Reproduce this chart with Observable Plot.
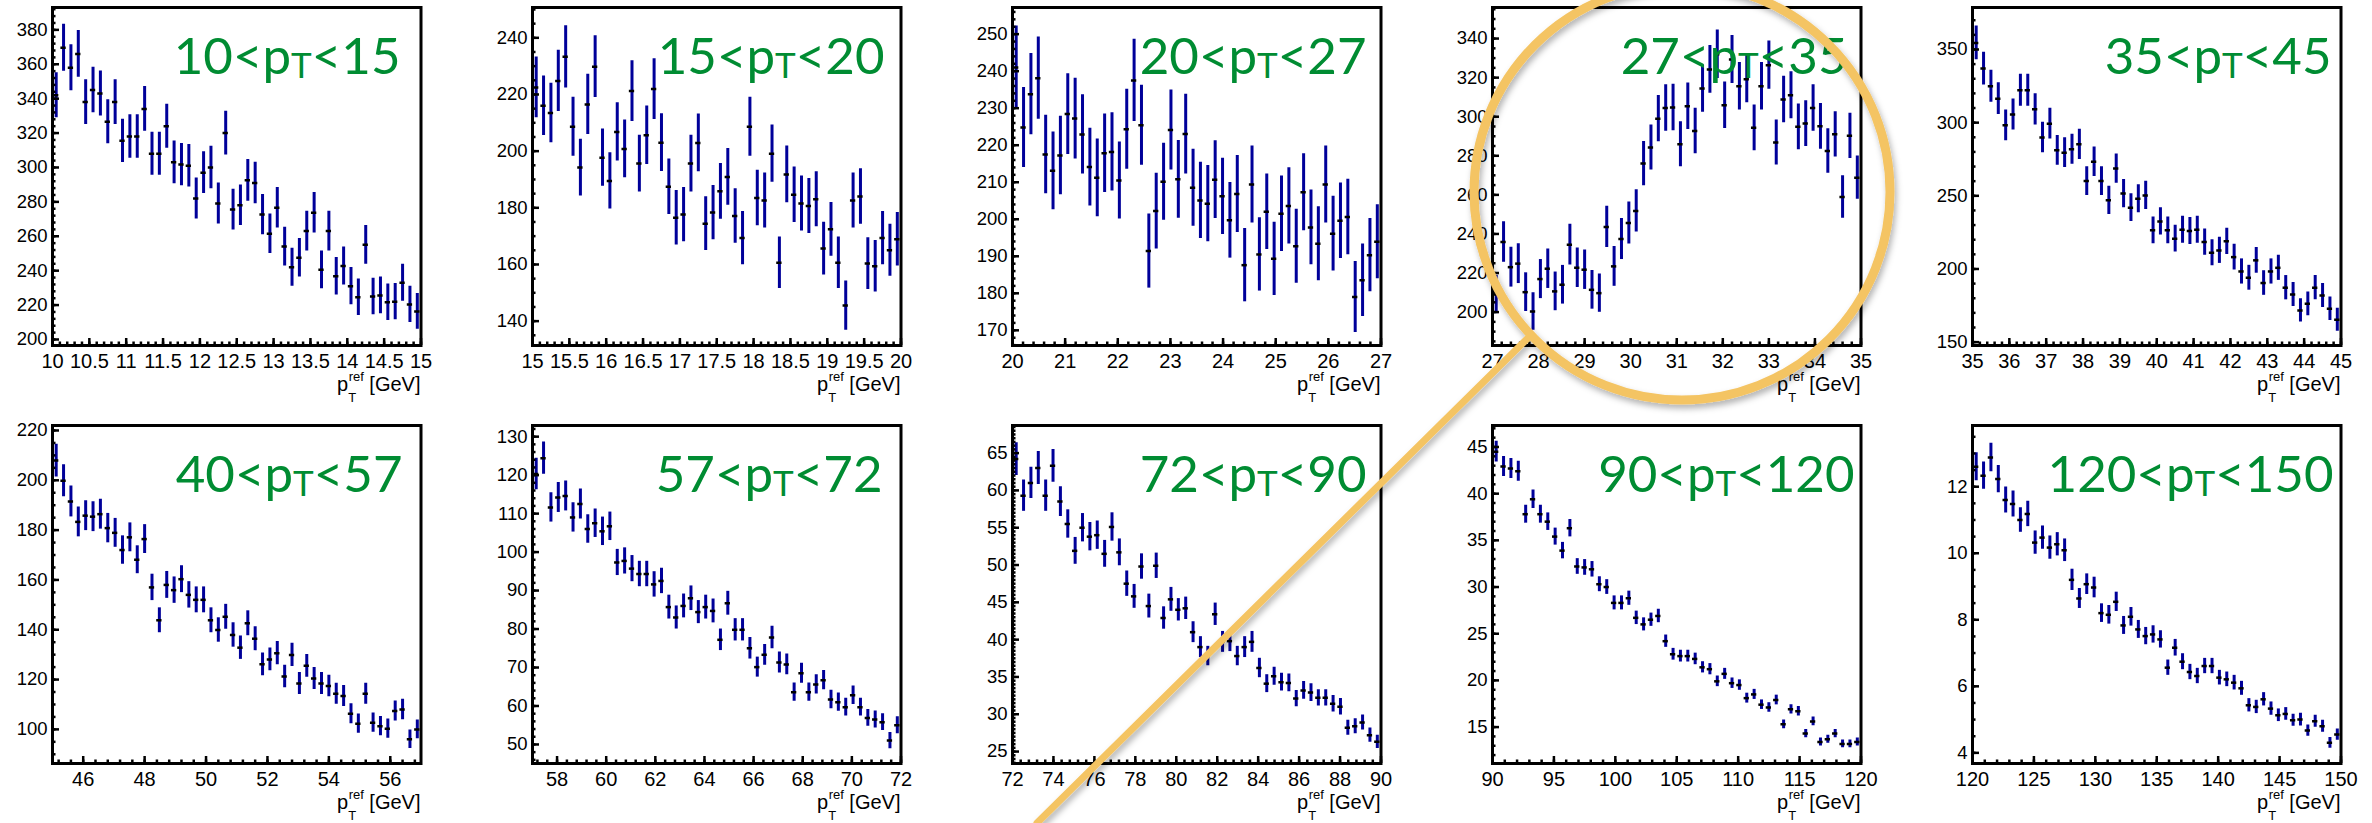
<!DOCTYPE html>
<html>
<head>
<meta charset="utf-8">
<script src="https://cdn.jsdelivr.net/npm/d3@7"></script>
<script src="https://cdn.jsdelivr.net/npm/@observablehq/plot@0.6"></script>
<style>
  html, body { margin: 0; padding: 0; background: #fff; }
  #root { position: relative; width: 2372px; height: 823px; overflow: hidden; background: #fff; }
  .panel { position: absolute; }
</style>
</head>
<body>
<div id="root"></div>
<script>
// ---------- DATA ----------
// pT bin labels (green titles)
const binLo = [10, 15, 20, 27, 35, 40, 57, 72, 90, 120];
const binHi = [15, 20, 27, 35, 45, 57, 72, 90, 120, 150];
// x-axis ranges of each histogram (p_T^ref)
const xLo = [10, 15, 20, 27, 35, 45, 57, 72, 90, 120];
const xHi = [15, 20, 27, 35, 45, 57, 72, 90, 120, 150];
// y-axis ranges
const yLo = [196.5, 131.4, 165.9, 182.9, 147.7, 86.3, 45.05, 23.4, 11.1, 3.68];
const yHi = [393, 250.7, 257.2, 355.9, 378.7, 222, 132.9, 68.7, 47.3, 13.84];
// tick labels
const xTicks = [
  [10, 10.5, 11, 11.5, 12, 12.5, 13, 13.5, 14, 14.5, 15],
  [15, 15.5, 16, 16.5, 17, 17.5, 18, 18.5, 19, 19.5, 20],
  [20, 21, 22, 23, 24, 25, 26, 27],
  [27, 28, 29, 30, 31, 32, 33, 34, 35],
  [35, 36, 37, 38, 39, 40, 41, 42, 43, 44, 45],
  [46, 48, 50, 52, 54, 56],
  [58, 60, 62, 64, 66, 68, 70, 72],
  [72, 74, 76, 78, 80, 82, 84, 86, 88, 90],
  [90, 95, 100, 105, 110, 115, 120],
  [120, 125, 130, 135, 140, 145, 150]
];
const xMinor = [0.1, 0.1, 0.2, 0.2, 0.2, 0.4, 0.4, 0.4, 1, 1];
const yTicks = [
  [200, 220, 240, 260, 280, 300, 320, 340, 360, 380],
  [140, 160, 180, 200, 220, 240],
  [170, 180, 190, 200, 210, 220, 230, 240, 250],
  [200, 220, 240, 260, 280, 300, 320, 340],
  [150, 200, 250, 300, 350],
  [100, 120, 140, 160, 180, 200, 220],
  [50, 60, 70, 80, 90, 100, 110, 120, 130],
  [25, 30, 35, 40, 45, 50, 55, 60, 65],
  [15, 20, 25, 30, 35, 40, 45],
  [4, 6, 8, 10, 12]
];
const yMinor = [4, 5, 2, 5, 10, 5, 2, 0.5, 1, 0.5];

// bin contents (50 bins per histogram) and their errors
const y1 = [342,369.6,358,366,338,345,343,326.6,338,315.5, 318,318,334,308,308,324,303,301.7,301,282, 297,300,279,320,275.5,278,292.5,291,272.6,261.5, 276.6,254,242,247.5,263,273.7,240.5,263,236.7,242.7, 231,224.6,255,225,225.6,221.7,222,233,220.4,216.3];
const e1 = [13.1,13.7,13.4,13.6,13.0,13.2,13.1,12.8,13.0,12.6, 12.7,12.7,13.0,12.5,12.5,12.8,12.4,12.3,12.3,11.9, 12.2,12.3,11.9,12.7,11.8,11.8,12.1,12.1,11.7,11.5, 11.8,11.3,11.0,11.2,11.5,11.8,11.0,11.5,10.9,11.1, 10.8,10.6,11.3,10.6,10.7,10.6,10.6,10.8,10.5,10.4];
const y2 = [222.5,216,213.5,224.8,233.3,208.6,194.2,216.5,229.8,197.7, 189.5,206.8,200.8,221.2,195.6,205.6,221.9,203,187.4,176.5, 177.6,195.6,202.9,174.4,178.3,185.8,190.9,177.1,169.3,208.6, 183.5,182.6,199.1,160.6,191.8,184.6,181.5,180.6,183,165.6, 172.4,160.6,145.5,182.6,184,160.3,159.4,169.3,165,168.9];
const e2 = [10.7,10.5,10.5,10.8,11,10.4,10,10.6,10.9,10.1, 9.9,10.3,10.2,10.7,10,10.3,10.7,10.2,9.8,9.6, 9.6,10,10.2,9.5,9.6,9.8,10,9.6,9.4,10.4, 9.8,9.7,10.1,9.1,10,9.8,9.7,9.7,9.7,9.3, 9.5,9.1,8.7,9.7,9.8,9.1,9.1,9.4,9.2,9.4];
const y3 = [241,224.8,233.8,238.1,217.5,213.1,217.2,228.4,227.2,222.9, 214.1,211.2,217.8,218.2,210.5,224.3,237.5,225.4,191.4,202.2, 210.1,224.1,210.8,223,208.5,205.1,204.2,210.7,206.2,199.7, 206.8,187.6,209.4,190.5,202,189.3,201.5,203.6,192.7,207.3, 197.8,193.4,209.4,196.1,199.6,200.6,179,183.5,190.3,193.9];
const e3 = [11.2,10.8,11.0,11.1,10.6,10.5,10.6,10.9,10.9,10.7, 10.5,10.5,10.6,10.6,10.4,10.8,11.1,10.8,10.0,10.2, 10.4,10.8,10.5,10.8,10.4,10.3,10.3,10.5,10.3,10.2, 10.4,9.9,10.4,9.9,10.2,9.9,10.2,10.3,10.0,10.4, 10.1,10.0,10.4,10.1,10.2,10.2,9.6,9.8,9.9,10.0];
const y4 = [209,235.9,223,224.8,210.2,200.3,216.9,222.2,210.6,214, 234.5,222.7,221.7,211.4,209.7,243.6,223.4,237.4,245.6,251.8, 276,284.2,299,304.5,304.7,285.9,305.4,292.7,314.4,324.2, 332,305.9,329.3,315.6,319.2,294.3,315.6,326.4,286.8,308.8, 311,294.8,296.5,304.5,295.1,282.5,291,258.9,290.2,268.8];
const e4 = [9.8,10.4,10.2,10.2,9.9,9.6,10.0,10.1,9.9,9.9, 10.4,10.1,10.1,9.9,9.8,10.6,10.2,10.5,10.7,10.8, 11.3,11.5,11.8,11.9,11.9,11.5,11.9,11.6,12.1,12.2, 12.4,11.9,12.3,12.1,12.1,11.7,12.1,12.3,11.5,11.9, 12.0,11.7,11.7,11.9,11.7,11.4,11.6,10.9,11.6,11.1];
const y5 = [354.5,337,324.9,316.4,298.2,305.5,322.1,322.1,309.1,289.8, 299.3,281.1,279.5,281.8,285.2,260.1,273.3,260.1,246.9,268.6, 251.5,241.9,248,250.3,226.4,232.5,226.4,220.7,226.8,225.9, 226.8,218.4,211.1,212.7,218.9,208.1,198.3,194,205.9,190.4, 198.3,200.8,187.2,182.6,171.7,176.2,187.2,181.9,172.8,165.3];
const e5 = [11.5,11.2,11.0,10.8,10.5,10.6,10.9,10.9,10.7,10.4, 10.5,10.2,10.2,10.2,10.3,9.8,10.1,9.8,9.6,10.0, 9.7,9.5,9.6,9.6,9.2,9.3,9.2,9.1,9.2,9.2, 9.2,9.0,8.9,8.9,9.0,8.8,8.6,8.5,8.8,8.4, 8.6,8.6,8.3,8.2,8.0,8.1,8.3,8.2,8.0,7.8];
const y6 = [207.9,199.8,191.5,183.3,185.8,185.4,186.4,180.8,178.9,172, 177.1,168.1,176.4,157,143.8,158,155.9,160.3,154,152, 152,143.8,139.9,145.2,137.9,132.8,142.6,136.4,126.1,128.1, 130.6,121.2,129.9,118.4,125.5,120.4,118.4,117.4,114.3,113.4, 106.3,102.3,114.3,102.7,101.3,100.3,107.4,108,96,100];
const e6 = [6.6,6.4,6.2,6.0,6.0,6.0,6.0,5.9,5.8,5.7, 5.8,5.6,5.8,5.3,5.0,5.4,5.3,5.4,5.3,5.2, 5.2,5.0,4.9,5.0,4.9,4.7,5.0,4.8,4.6,4.6, 4.7,4.5,4.7,4.4,4.6,4.4,4.4,4.3,4.2,4.2, 4.0,3.9,4.2,3.9,3.9,3.9,4.0,4.1,3.7,3.8];
const y7 = [120.3,124.4,111.6,114.2,114.6,109,112.5,106,107.5,105.4, 106.7,97.3,97.7,95.7,94.3,94.3,91.6,92.5,85.7,83, 86,88,84.4,85.7,84.7,77.2,86.7,79.8,79.8,75, 70.1,73.3,77.8,71.3,70.8,63.6,68.5,63.6,65.6,66.7, 61.7,61,59.7,62.8,59.7,56.9,56.5,55.8,51,55];
const e7 = [4.1,4.2,3.8,3.9,3.9,3.8,3.9,3.7,3.7,3.7, 3.7,3.4,3.4,3.4,3.3,3.3,3.3,3.3,3.1,3.0, 3.1,3.2,3.0,3.1,3.1,2.8,3.1,2.9,2.9,2.8, 2.6,2.7,2.9,2.7,2.7,2.4,2.6,2.4,2.5,2.5, 2.4,2.4,2.3,2.4,2.3,2.2,2.2,2.2,2.1,2.2];
const y8 = [64.2,59.3,61,63,59.3,63.3,58.5,55.5,51.9,55, 53.8,54,51.5,55.1,51.7,47.5,45.8,49.8,44.5,49.9, 42.9,45.4,44,44.2,41,39,37.8,43.4,39.7,39.8, 37.8,39,39.7,36.2,34.1,35.1,34.3,34.2,32.1,33.2, 32.9,32.2,32.2,31.4,31,28.2,28.4,28.9,27.2,26.3];
const e8 = [2.2,2.1,2.1,2.2,2.1,2.2,2.0,1.9,1.8,1.9, 1.9,1.9,1.8,1.9,1.8,1.7,1.6,1.7,1.6,1.7, 1.5,1.6,1.5,1.5,1.4,1.4,1.3,1.5,1.4,1.4, 1.3,1.4,1.4,1.3,1.2,1.2,1.2,1.2,1.1,1.2, 1.2,1.1,1.1,1.1,1.1,1.0,1.0,1.0,0.95,0.9];
const y9 = [44.5,42.9,42.7,42.4,37.8,39.4,37.8,37,35.4,33.9, 36.3,32.2,32.1,31.9,30.3,30,28.3,28.3,28.8,26.7, 26,26.5,26.9,24.2,22.8,22.6,22.6,22.3,21.4,21.2, 19.9,20.7,19.7,19.5,18.1,18.5,17.4,17.1,17.9,15.3, 16.9,16.7,14.3,15.6,13.4,13.7,14.3,13.2,13.2,13.4];
const e9 = [1.1,1.07,1.07,1.06,0.96,1.0,0.96,0.94,0.91,0.88, 0.93,0.84,0.84,0.83,0.8,0.79,0.75,0.75,0.76,0.72, 0.7,0.71,0.72,0.66,0.63,0.63,0.63,0.62,0.6,0.6, 0.57,0.59,0.56,0.56,0.53,0.54,0.51,0.51,0.52,0.47, 0.5,0.5,0.44,0.47,0.42,0.43,0.44,0.42,0.42,0.42];
const y10 = [12.6,12.33,12.88,12.23,11.6,11.48,11.0,11.18,10.32,10.47, 10.17,10.27,10.09,9.2,8.64,9.07,8.97,8.2,8.15,8.54, 7.83,8.09,7.71,7.51,7.56,7.41,6.56,7.16,6.74,6.43, 6.31,6.61,6.61,6.26,6.21,6.11,5.94,5.43,5.38,5.61, 5.33,5.13,5.17,4.98,5.0,4.67,4.95,4.8,4.3,4.55];
const e10 = [0.42,0.41,0.43,0.41,0.39,0.39,0.37,0.38,0.35,0.35, 0.35,0.35,0.34,0.32,0.3,0.31,0.31,0.28,0.28,0.29, 0.27,0.28,0.27,0.26,0.26,0.26,0.23,0.25,0.24,0.23, 0.23,0.23,0.23,0.22,0.22,0.22,0.21,0.2,0.2,0.2, 0.2,0.19,0.19,0.18,0.19,0.17,0.18,0.18,0.16,0.17];

const contents = [y1, y2, y3, y4, y5, y6, y7, y8, y9, y10];
const errors = [e1, e2, e3, e4, e5, e6, e7, e8, e9, e10];

// ---------- LAYOUT / STYLE ----------
const W = 432.5, H = 410, ML = 52, MR = 12, MT = 7, MB = 65;
const colX = [0, 480, 960, 1440, 1920], rowY = [0, 418];
const titleInset = [20, 16, 14, 13, 9, 18, 18, 14, 6, 7];
const BAR = "#000099", GREEN = "#008C32", GOLD = "#F4C464";

function minorTicks(lo, hi, step) {
  const out = [];
  for (let k = Math.ceil(lo / step - 1e-9); k * step <= hi + 1e-9; k++) out.push(+(k * step).toFixed(6));
  return out;
}
const fmt = d => String(d);

const root = document.getElementById("root");

for (let p = 0; p < 10; p++) {
  const ys = contents[p], es = errors[p];
  const bw = (xHi[p] - xLo[p]) / ys.length;
  const rows = ys.map((v, i) => ({x: xLo[p] + (i + 0.5) * bw, y: v, e: es[i]}));

  const svg = Plot.plot({
    width: W, height: H,
    marginLeft: ML, marginRight: MR, marginTop: MT, marginBottom: MB,
    style: {fontFamily: "'Liberation Sans', Arial, Helvetica, sans-serif", fontSize: "18px", background: "white", color: "black", overflow: "visible"},
    x: {domain: [xLo[p], xHi[p]], axis: null},
    y: {domain: [yLo[p], yHi[p]], axis: null},
    marks: [
      Plot.ruleX(rows, {x: "x", y1: d => d.y - d.e, y2: d => d.y + d.e, stroke: BAR, strokeWidth: 3, clip: true}),
      Plot.ruleY(rows, {y: "y", x1: d => d.x - 0.36 * bw, x2: d => d.x + 0.36 * bw, stroke: "black", strokeWidth: 2.5, clip: true}),
      Plot.axisY(minorTicks(yLo[p], yHi[p], yMinor[p]), {anchor: "left", tickSize: -3.5, tickPadding: 0, tickFormat: () => "", strokeWidth: 2.5, label: null}),
      Plot.axisY(yTicks[p], {anchor: "left", tickSize: -7, tickPadding: 12, tickFormat: fmt, fontSize: 18.5, strokeWidth: 2.5, label: null}),
      Plot.axisX(minorTicks(xLo[p], xHi[p], xMinor[p]), {anchor: "bottom", tickSize: -3.5, tickPadding: 0, tickFormat: () => "", strokeWidth: 2.5, label: null}),
      Plot.axisX(xTicks[p], {anchor: "bottom", tickSize: -7, tickPadding: 15, tickFormat: fmt, fontSize: 20, strokeWidth: 2.5, label: null}),
      Plot.frame({stroke: "black", strokeWidth: 3})
    ]
  });

  const g = d3.select(svg);
  // green pT-bin title
  const t = g.append("text")
    .attr("x", W - MR - titleInset[p]).attr("y", MT + 67)
    .attr("text-anchor", "end").attr("fill", GREEN)
    .style("font-family", "Lato, 'Open Sans', sans-serif").style("font-size", "51px");
  t.append("tspan").text(`${binLo[p]}<p`);
  t.append("tspan").attr("dy", 4).style("font-size", "35px").text("T");
  t.append("tspan").attr("dy", -4).text(`<${binHi[p]}`);

  // x-axis title  p_T^ref [GeV]
  const a = g.append("text")
    .attr("x", W - MR).attr("y", H - MB + 46)
    .attr("text-anchor", "end").attr("fill", "black")
    .style("font-size", "20px");
  a.append("tspan").text("p");
  a.append("tspan").attr("dy", 11).style("font-size", "13px").text("T");
  a.append("tspan").attr("dx", -7).attr("dy", -21).style("font-size", "13px").text("ref");
  a.append("tspan").attr("dy", 10).text(" [GeV]");

  const wrap = document.createElement("div");
  wrap.className = "panel";
  wrap.style.left = colX[p % 5] + "px";
  wrap.style.top = rowY[Math.floor(p / 5)] + "px";
  wrap.appendChild(svg);
  root.appendChild(wrap);
}

// ---------- magnifier annotation ----------
const ov = d3.select(root).append("svg")
  .attr("width", 2372).attr("height", 823)
  .style("position", "absolute").style("left", "0px").style("top", "0px")
  .style("pointer-events", "none");
const f = ov.append("defs").append("filter").attr("id", "shadow")
  .attr("x", "-20%").attr("y", "-20%").attr("width", "140%").attr("height", "140%");
f.append("feDropShadow").attr("dx", 2).attr("dy", 4).attr("stdDeviation", 3)
  .attr("flood-color", "#000").attr("flood-opacity", 0.3);
const lens = ov.append("g").attr("filter", "url(#shadow)");
lens.append("path").attr("d", "M1037,823 L1530,336")
  .attr("stroke", GOLD).attr("stroke-width", 7).attr("stroke-linecap", "round").attr("fill", "none");
lens.append("circle").attr("cx", 1682).attr("cy", 192).attr("r", 208)
  .attr("stroke", GOLD).attr("stroke-width", 9).attr("fill", "none");
</script>
</body>
</html>
